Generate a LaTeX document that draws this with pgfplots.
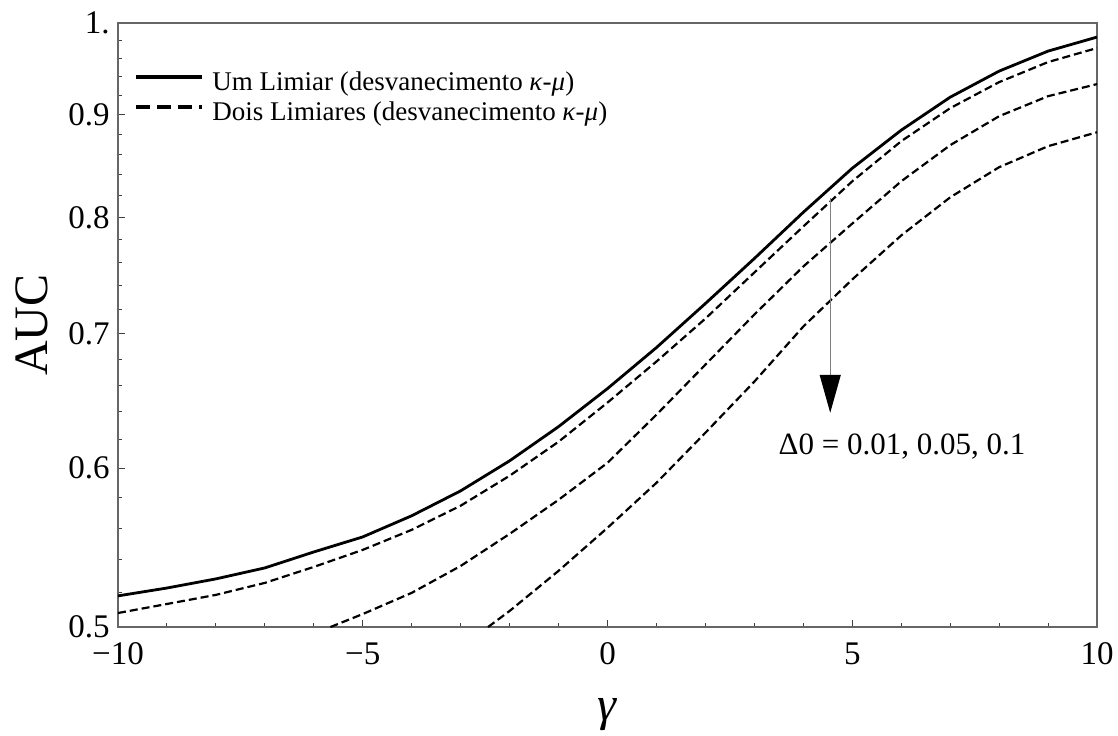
\documentclass[border=0pt]{standalone}
\usepackage{fontspec}
\setmainfont{Liberation Serif}
\usepackage{pgfplots}
\usepackage{pgfplotstable}
\pgfplotsset{compat=1.18}
\usetikzlibrary{arrows.meta}

% AUC versus gamma, single threshold
\pgfplotstableread{
g auc
-10 0.5182
-9 0.5229
-8 0.5284
-7 0.5351
-6 0.5450
-5 0.5545
-4 0.5681
-3 0.5846
-2 0.6051
-1 0.6293
0 0.6574
1 0.6891
2 0.7248
3 0.7633
4 0.8048
5 0.8465
6 0.8843
7 0.9184
8 0.9463
9 0.9683
10 0.9840
}\umlimiar

% two thresholds, Delta0 = 0.01
\pgfplotstableread{
g auc
-10 0.5081
-9 0.5134
-8 0.5188
-7 0.5260
-6 0.5357
-5 0.5463
-4 0.5590
-3 0.5747
-2 0.5948
-1 0.6185
0 0.6469
1 0.6781
2 0.7124
3 0.7511
4 0.7919
5 0.8339
6 0.8732
7 0.9069
8 0.9344
9 0.9562
10 0.9717
}\doisA

% two thresholds, Delta0 = 0.05
\pgfplotstableread{
g auc
-5.66 0.5000
-5 0.5075
-4 0.5200
-3 0.5363
-2 0.5564
-1 0.5786
0 0.6037
1 0.6380
2 0.6757
3 0.7157
4 0.7563
5 0.7946
6 0.8339
7 0.8692
8 0.8986
9 0.9195
10 0.9323
}\doisB

% two thresholds, Delta0 = 0.1
\pgfplotstableread{
g auc
-2.44 0.5000
-2 0.5093
-1 0.5333
0 0.5603
1 0.5900
2 0.6249
3 0.6627
4 0.7059
5 0.7451
6 0.7838
7 0.8187
8 0.8475
9 0.8682
10 0.8822
}\doisC

\begin{document}
\begin{tikzpicture}
\begin{axis}[
  at={(0,0)}, anchor=south west,
  scale only axis, width=489.5pt, height=302pt,
  xmin=-10, xmax=10, ymin=0.5, ymax=1, ymode=log,
  xtick={-10,-5,0,5,10}, xticklabels={−10,−5,0,5,10},
  minor xtick={-9,-8,-7,-6,-4,-3,-2,-1,1,2,3,4,6,7,8,9},
  ytick={0.5,0.6,0.7,0.8,0.9,1}, yticklabels={0.5,0.6,0.7,0.8,0.9,1.},
  minor ytick={0.52,0.54,0.56,0.58,0.62,0.64,0.66,0.68,0.72,0.74,0.76,0.78,0.82,0.84,0.86,0.88,0.92,0.94,0.96,0.98},
  xtick pos=bottom, ytick pos=left, tick align=inside,
  major tick length=3.5pt, minor tick length=2pt,
  axis line style={black!60, line width=0.6pt},
  every tick/.style={black!75, line width=0.5pt},
  tick label style={font=\fontsize{16.5}{19}\selectfont},
  yticklabel style={anchor=east, inner sep=0pt, xshift=-4pt},
  xticklabel style={anchor=north, inner sep=0pt, yshift=-7.5pt},
  xlabel={\textit{γ}}, ylabel={AUC},
  label style={font=\fontsize{24}{28}\selectfont},
  xlabel style={at={(axis description cs:0.5,-0.1556)}, anchor=base},
  ylabel style={at={(axis description cs:-0.0878,0.5)}, anchor=center},
  legend style={at={(axis description cs:0.0163,0.920)}, anchor=north west,
    draw=none, fill=none, inner sep=0pt, row sep=2pt,
    font=\fontsize{13.5}{16}\selectfont,
    nodes={inner sep=0pt, text height=9.5pt, text depth=3.5pt}},
  legend cell align=left,
  legend image code/.code={\draw[#1] (0pt,4pt) -- (33pt,4pt);},
]
\addlegendimage{black, line width=2pt}
\addlegendentry{\hspace{4pt}Um Limiar (desvanecimento \textit{κ}-\textit{μ})}
\addlegendimage{black, line width=2pt, dash pattern=on 7pt off 3.5pt}
\addlegendentry{\hspace{4pt}Dois Limiares (desvanecimento \textit{κ}-\textit{μ})}

\addplot[black, line width=1.4pt, forget plot] table[x=g, y=auc] {\umlimiar};
\addplot[black, line width=1.1pt, dash pattern=on 4pt off 2pt, forget plot] table[x=g, y=auc] {\doisA};
\addplot[black, line width=1.1pt, dash pattern=on 4pt off 2pt, forget plot] table[x=g, y=auc] {\doisB};
\addplot[black, line width=1.1pt, dash pattern=on 4pt off 2pt, forget plot] table[x=g, y=auc] {\doisC};

% direction of increasing Delta0
\draw[black!50, line width=0.6pt, -{Triangle[length=19pt, width=10.5pt, color=black, fill=black]}]
  (axis cs:4.55,0.818) -- (axis cs:4.55,0.6394);
\node[anchor=base west, inner sep=0pt, font=\fontsize{15.5}{18}\selectfont]
  at (axis cs:3.49,0.6093) {Δ0 = 0.01, 0.05, 0.1};
\end{axis}
\pgfresetboundingbox
\path[use as bounding box] (-59pt,-54pt) rectangle (500pt,313.5pt);
\end{tikzpicture}
\end{document}
